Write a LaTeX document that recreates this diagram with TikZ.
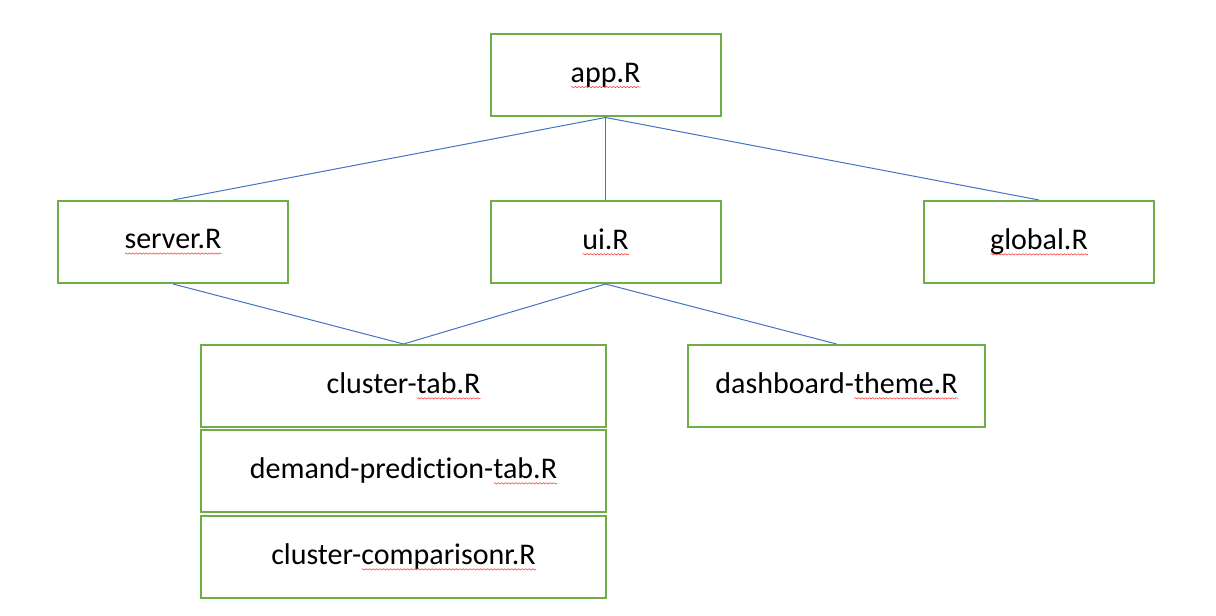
\documentclass[tikz,border=0pt]{standalone}
\usepackage{fontspec}
\setmainfont{Carlito}[Ligatures={NoCommon}]
\usetikzlibrary{decorations.pathmorphing}
\definecolor{boxgreen}{RGB}{112,173,71}
\definecolor{linkblue}{RGB}{68,114,196}
\newsavebox\wavebox
\newcommand\spellwave[1]{\sbox\wavebox{#1}\rlap{\tikz[baseline=0pt]\draw[red!80!white, line width=0.4pt, decorate,
  decoration={snake, amplitude=0.5pt, segment length=2.6pt}] (0pt,-3.6pt) -- (\wd\wavebox,-3.6pt);}\usebox\wavebox}
\tikzset{
  filebox/.style={draw=boxgreen, line width=1.5pt, minimum height=61.5pt, inner sep=0pt,
    font=\fontsize{22.5}{27}\selectfont},
  link/.style={draw=linkblue, line width=0.75pt}
}
\begin{document}
\begin{tikzpicture}[x=0.75pt, y=-0.75pt]
  \useasboundingbox (0,0) rectangle (1216,616);

  % Top level
  \node[filebox, minimum width=172.5pt] (app) at (605.5,75.5) {\spellwave{app.R}};

  % Second level
  \node[filebox, minimum width=172.5pt] (server) at (173,242) {\spellwave{server.R}};
  \node[filebox, minimum width=172.5pt] (ui) at (605.5,242) {\spellwave{ui.R}};
  \node[filebox, minimum width=172.5pt] (global) at (1039,242) {\spellwave{global.R}};

  % Tab files
  \node[filebox, minimum width=303.75pt] (clustertab) at (403.5,386) {cluster-\spellwave{tab.R}};
  \node[filebox, minimum width=303.75pt] (demandtab) at (403.5,471) {demand-prediction-\spellwave{tab.R}};
  \node[filebox, minimum width=303.75pt] (comparetab) at (403.5,557) {cluster-\spellwave{comparisonr.R}};
  \node[filebox, minimum width=222.75pt] (theme) at (836.5,386) {dashboard-\spellwave{theme.R}};

  % Links
  \draw[link] (app.south) -- (server.north);
  \draw[link] (app.south) -- (ui.north);
  \draw[link] (app.south) -- (global.north);
  \draw[link] (server.south) -- (clustertab.north);
  \draw[link] (ui.south) -- (clustertab.north);
  \draw[link] (ui.south) -- (theme.north);
\end{tikzpicture}
\end{document}
